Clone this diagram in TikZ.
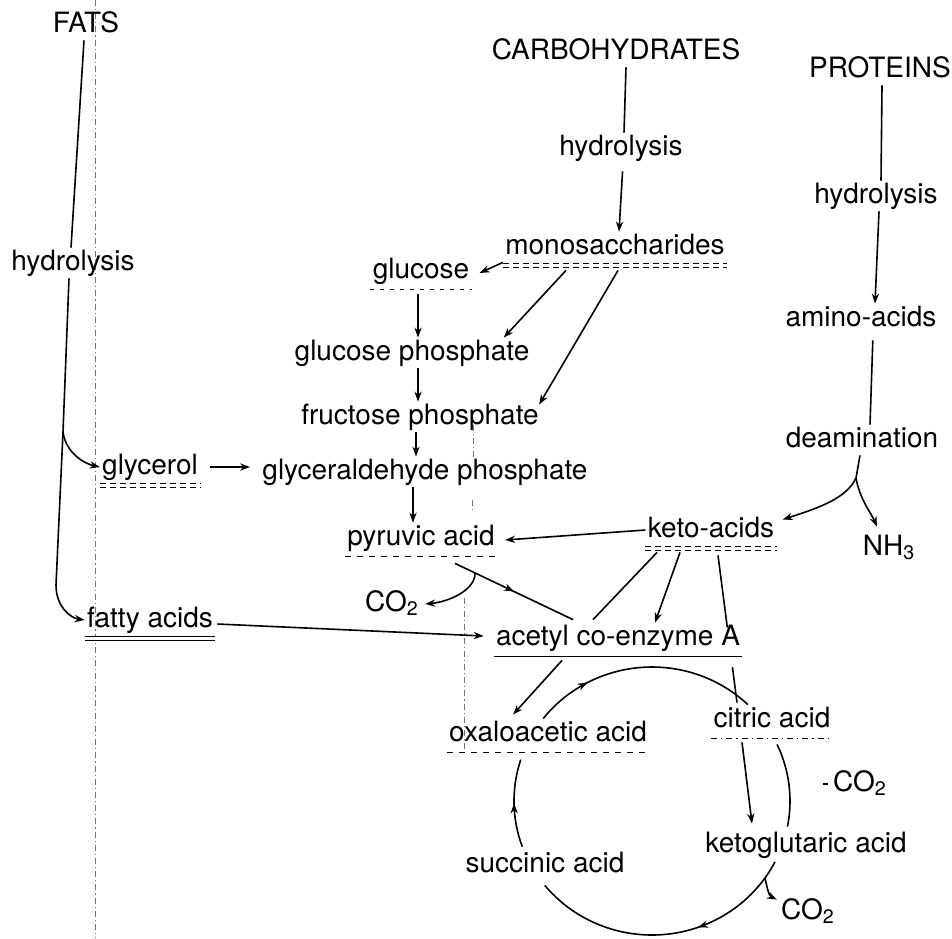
\documentclass[tikz,border=0pt]{standalone}
\usepackage{fontspec}
\setmainfont{TeX Gyre Heros}
\usetikzlibrary{arrows.meta,calc,decorations.markings}

\begin{document}
\begin{tikzpicture}[x=0.5pt,y=-0.5pt,>={Stealth[length=5pt,width=3.6pt]},
    chem/.style={font=\fontsize{14}{16}\selectfont,inner xsep=1pt,inner ysep=1pt,text height=10pt,text depth=3pt},
    link/.style={line width=0.8pt},
    uline/.style={line width=0.6pt},
    dline/.style={double,double distance=1.1pt,line width=0.5pt},
    ghost/.style={black!55,line width=0.4pt,dash pattern=on 3pt off 1.5pt on 0.6pt off 1.5pt},
    midtip/.style={postaction={decorate},decoration={markings,mark=at position #1 with {\arrow{Stealth[length=5pt,width=3.6pt]}}}}]
    \useasboundingbox (0,0) rectangle (952,938);
    % fold lines of the scan
    \draw[ghost] (95,0) -- (95,938);
    \draw[ghost] (473,425) -- (473,458);
    \draw[ghost] (472,500) -- (472,512);
    \draw[ghost] (464,598) -- (464,752);
    % sources
    \node[chem] (fats) at (86,25) {FATS};
    \node[chem] (carb) at (616,52) {CARBOHYDRATES};
    \node[chem] (prot) at (880,70) {PROTEINS};
    \node[chem] (hydF) at (73,263) {hydrolysis};
    \node[chem] (hydC) at (621,148) {hydrolysis};
    \node[chem] (hydP) at (876,196) {hydrolysis};
    % glycolysis column
    \node[chem] (mono) at (615,247) {monosaccharides};
    \node[chem] (gluc) at (421,271) {glucose};
    \node[chem] (gp) at (412,353) {glucose phosphate};
    \node[chem] (fp) at (420,417) {fructose phosphate};
    \node[chem] (glyc) at (150,467) {glycerol};
    \node[chem] (gap) at (425,472) {glyceraldehyde phosphate};
    \node[chem] (pyr) at (421,538) {pyruvic acid};
    \node[chem] (co2a) at (392,604) {CO\textsubscript{2}};
    \node[chem] (fatty) at (150,620) {fatty acids};
    % protein side
    \node[chem] (amino) at (861,319) {amino-acids};
    \node[chem] (deam) at (862,440) {deamination};
    \node[chem] (keto) at (711,530) {keto-acids};
    \node[chem] (nh3) at (889,548) {NH\textsubscript{3}};
    % cycle
    \node[chem] (acetyl) at (618,638) {acetyl co-enzyme A};
    \node[chem] (oxalo) at (548,734) {oxaloacetic acid};
    \node[chem] (citric) at (772,720) {citric acid};
    \node[chem] (co2b) at (860,784) {CO\textsubscript{2}};
    \node[chem] (kglut) at (806,845) {ketoglutaric acid};
    \node[chem] (succ) at (545,865) {succinic acid};
    \node[chem] (co2c) at (808,912) {CO\textsubscript{2}};
    % underlines
    \foreach \n in {acetyl} \draw[uline] ($(\n.south west)+(0,3)$) -- ($(\n.south east)+(0,3)$);
    \foreach \n in {pyr,oxalo} \draw[uline,dashed] ($(\n.south west)+(0,3)$) -- ($(\n.south east)+(0,3)$);
    \foreach \n in {gluc} \draw[uline,dash pattern=on 2pt off 3pt] ($(\n.south west)+(0,3)$) -- ($(\n.south east)+(0,3)$);
    \foreach \n in {citric} \draw[uline,dash dot] ($(\n.south west)+(0,3)$) -- ($(\n.south east)+(0,3)$);
    \foreach \n in {fatty} \draw[dline] ($(\n.south west)+(0,3)$) -- ($(\n.south east)+(0,3)$);
    \foreach \n in {mono,glyc,keto} \draw[dline,densely dashed] ($(\n.south west)+(0,3)$) -- ($(\n.south east)+(0,3)$);
    % fats
    \coordinate (fk1) at (63,432);
    \coordinate (fk2) at (56,585);
    \draw[link] ([xshift=-1pt]fats.south) -- ([xshift=-1pt]hydF.north);
    \draw[link,->] ([xshift=-2pt]hydF.south) -- (fk1) -- (fk2) .. controls +(0,22) and +(-14,-2) .. (fatty.west);
    \draw[link,->] (fk1) .. controls +(3,22) and +(-14,-3) .. (glyc.west);
    \draw[link,->,shorten <=5pt,shorten >=5pt] (glyc.east) -- (glyc.east -| gap.west);
    \draw[link,->] ($(fatty.east)+(2,4)$) -- ($(acetyl.west)+(-10,-2)$);
    % carbohydrates
    \draw[link] ([xshift=5pt]carb.south) -- ([xshift=1.5pt]hydC.north);
    \draw[link,->,shorten <=4pt] ([xshift=1pt]hydC.south) -- ([xshift=2pt]mono.north);
    \draw[link,->] (mono.south west) -- ($(gluc.east)+(8,2)$);
    \draw[link,->] ($(mono.south)+(-49,8)$) -- ($(gp.north east)+(-28,0)$);
    \draw[link,->] ($(mono.south)+(3,8)$) -- ($(fp.north east)+(-2,3)$);
    \draw[link,->,shorten <=4pt] ([xshift=-1.5pt]gluc.south) -- ([xshift=-1.5pt]gluc.south |- gp.north);
    \draw[link,->] ([xshift=-1.5pt]gluc.south |- gp.south) -- ([xshift=-1.5pt]gluc.south |- fp.north);
    \draw[link,->] ([xshift=-2.5pt]gluc.south |- fp.south) -- ([xshift=-2.5pt]gluc.south |- gap.north);
    \draw[link,->] ([xshift=-4pt]gluc.south |- gap.south) -- ([xshift=-4pt]gluc.south |- pyr.north);
    % proteins
    \coordinate (dfk) at (856,478);
    \draw[link] ([xshift=1pt]prot.south) -- ([xshift=2.5pt]hydP.north);
    \draw[link,->] ([xshift=1.5pt]hydP.south) -- ([xshift=7pt]amino.north);
    \draw[link,shorten <=3pt] ([xshift=6pt]amino.south) -- ([xshift=4pt]deam.north);
    \draw[link,->] ([xshift=-1pt]deam.south) -- (dfk) .. controls +(-10,22) and +(30,-10) .. ($(keto.north east)+(6,5)$);
    \draw[link,->] (dfk) .. controls +(4,22) and +(-6,-14) .. ($(nh3.north)+(-12,-6)$);
    % pyruvic acid, keto-acids, acetyl co-enzyme A
    \draw[link,->] (keto.west) -- ($(pyr.east)+(8,2)$);
    \draw[link,midtip=0.5] ($(pyr.south)+(34,10)$) -- coordinate[pos=0.17] (pbr) ($(acetyl.north)+(-45,-3)$);
    \draw[link,->] (pbr) .. controls +(0,18) and +(22,-2) .. ($(co2a.east)+(4,0)$);
    \draw[link] ($(keto.south)+(-54,7)$) -- ($(acetyl.north)+(-25,-3)$);
    \draw[link,->] ($(keto.south)+(-31,7)$) -- ($(acetyl.north)+(37,0)$);
    \coordinate (kc0) at ($(keto.south)+(7,10)$);
    \coordinate (kc3) at ($(citric.north)+(-35,-2)$);
    \path (kc0) -- coordinate[pos=0.49] (kc1) coordinate[pos=0.76] (kc2) (kc3);
    \draw[link] (kc0) -- (kc1) (kc2) -- (kc3);
    \draw[link,->] ($(acetyl.south)+(-56,7)$) -- ($(oxalo.north)+(-35,-4)$);
    % citric acid cycle
    \coordinate (cyc) at (652,801);
    \draw[link,midtip=0.25] ($(cyc)+(-142:138 and 134)$) arc[start angle=-142,end angle=-46,x radius=138,y radius=134];
    \draw[link] ($(cyc)+(-25:138 and 134)$) arc[start angle=-25,end angle=11,x radius=138,y radius=134];
    \draw[link,midtip=0.38] ($(cyc)+(27:138 and 134)$) arc[start angle=27,end angle=141,x radius=138,y radius=134];
    \draw[link,midtip=0.5] ($(cyc)+(160:138 and 134)$) arc[start angle=160,end angle=198,x radius=138,y radius=134];
    \draw[link,->] ($(cyc)+(35:138 and 134)$) .. controls +(2,10) and +(-8,-4) .. ($(co2c.north west)+(-2,3)$);
    \draw[link,->] ($(citric.south)+(-30,7)$) -- ($(kglut.north)+(-54,-6)$);
    \draw[link] ($(co2b.west)+(-8,0)$) -- ($(co2b.west)+(-3,0)$);
\end{tikzpicture}
\end{document}
